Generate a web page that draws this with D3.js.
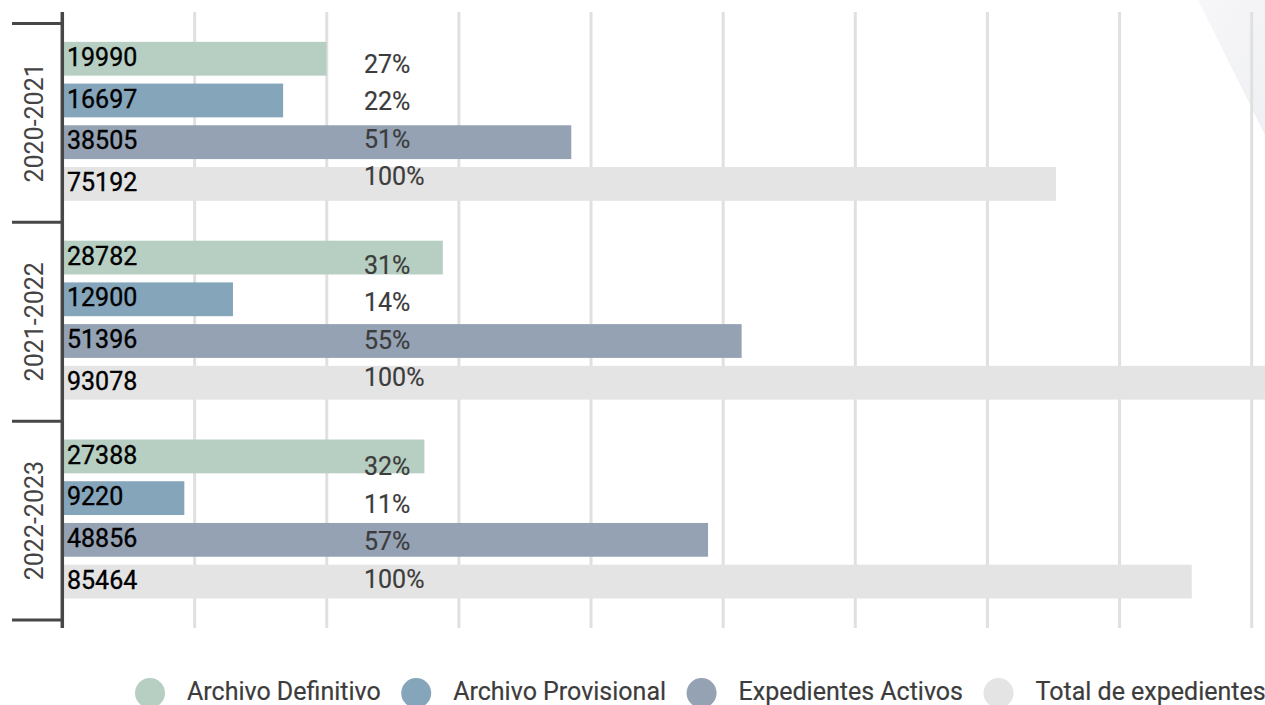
<!DOCTYPE html>
<html>
<head>
<meta charset="utf-8">
<script src="https://cdn.jsdelivr.net/npm/d3@7"></script>
<style>
  html, body { margin: 0; padding: 0; background: #ffffff; }
  svg { display: block; font-family: Roboto, "Noto Sans", sans-serif; }
</style>
</head>
<body>
<svg id="chart" width="1265" height="705"></svg>
<script>
// ---- data ----
const years = ["2020-2021", "2021-2022", "2022-2023"];
const series = ["Archivo Definitivo", "Archivo Provisional", "Expedientes Activos", "Total de expedientes"];
const archivoDefinitivo   = [19990, 28782, 27388];
const archivoProvisional  = [16697, 12900, 9220];
const expedientesActivos  = [38505, 51396, 48856];
const totalExpedientes    = [75192, 93078, 85464];
const pctDefinitivo  = ["27%", "31%", "32%"];
const pctProvisional = ["22%", "14%", "11%"];
const pctActivos     = ["51%", "55%", "57%"];
const pctTotal       = ["100%", "100%", "100%"];
const xTicks = [10000, 20000, 30000, 40000, 50000, 60000, 70000, 80000, 90000];
const colors = ["#b7cfc2", "#85a5bb", "#94a2b4", "#e4e4e4"];

const valuesBySeries = [archivoDefinitivo, archivoProvisional, expedientesActivos, totalExpedientes];
const pctBySeries = [pctDefinitivo, pctProvisional, pctActivos, pctTotal];

const rows = [];
years.forEach((yr, g) => {
  series.forEach((s, i) => {
    rows.push({ year: yr, g, series: s, i, value: valuesBySeries[i][g], pct: pctBySeries[i][g] });
  });
});

// ---- layout ----
const svg = d3.select("#chart");
const x = d3.scaleLinear().domain([0, 90000]).range([62.5, 1251.7]);
const y0 = d3.scaleBand().domain(years).range([23.5, 620]).padding(0);
const y1 = d3.scaleBand().domain(series).range([0, y0.bandwidth()])
  .paddingInner(0.19).paddingOuter(0.478).align(0.46);
// percent labels follow their own slightly different spacing
const pctGroup = d3.scaleLinear().domain([0, 1]).range([72.7, 273.9]);
const pctStep = d3.scaleLinear().domain([0, 1]).range([0, 37.5]);
const color = d3.scaleOrdinal().domain(series).range(colors);

// background decoration (top-right faint texture)
const defs = svg.append("defs");
const grad = defs.append("linearGradient").attr("id", "bgGrad")
  .attr("x1", "0").attr("y1", "0").attr("x2", "1").attr("y2", "1");
grad.append("stop").attr("offset", "0%").attr("stop-color", "#f7f7f9");
grad.append("stop").attr("offset", "100%").attr("stop-color", "#eff0f3");
svg.append("polygon")
  .attr("points", "1198,0 1265,0 1265,135")
  .attr("fill", "url(#bgGrad)");

// gridlines
svg.append("g").selectAll("line").data(xTicks).join("line")
  .attr("x1", d => x(d)).attr("x2", d => x(d))
  .attr("y1", 12).attr("y2", 628)
  .attr("stroke", "#e0e0e0").attr("stroke-width", 3);

// bars
svg.append("g").selectAll("rect").data(rows).join("rect")
  .attr("x", x(0) + 0.5)
  .attr("y", d => y0(d.year) + y1(d.series))
  .attr("width", d => x(d.value) - x(0) - 0.5)
  .attr("height", y1.bandwidth())
  .attr("fill", d => color(d.series));

// value labels
svg.append("g").selectAll("text").data(rows).join("text")
  .attr("x", 67)
  .attr("y", d => y0(d.year) + y1(d.series) + 24)
  .attr("font-size", 25)
  .attr("fill", "#000")
  .attr("stroke", "#000").attr("stroke-width", 0.35)
  .text(d => d.value);

// percent labels
svg.append("g").selectAll("text").data(rows).join("text")
  .attr("x", 364)
  .attr("y", d => pctGroup(d.g) + pctStep(d.i))
  .attr("font-size", 25)
  .attr("fill", "#3c3c3c")
  .attr("stroke", "#3c3c3c").attr("stroke-width", 0.2)
  .text(d => d.pct);

// y axis
const axisG = svg.append("g");
axisG.append("line")
  .attr("x1", 62.3).attr("x2", 62.3).attr("y1", 12).attr("y2", 628)
  .attr("stroke", "#474747").attr("stroke-width", 3.5);
const bounds = years.map(yr => y0(yr)).concat([y0.range()[1]]);
axisG.selectAll("line.tick").data(bounds).join("line").attr("class", "tick")
  .attr("x1", 12).attr("x2", 62).attr("y1", d => d).attr("y2", d => d)
  .attr("stroke", "#474747").attr("stroke-width", 3);
axisG.selectAll("text").data(years).join("text")
  .attr("transform", d => `translate(43,${y0(d) + y0.bandwidth() / 2}) rotate(-90)`)
  .attr("text-anchor", "middle")
  .attr("font-size", 25)
  .attr("fill", "#444")
  .text(d => d);

// legend
const legend = svg.append("g");
let lx = 150;
series.forEach((s, i) => {
  legend.append("circle").attr("cx", lx).attr("cy", 693).attr("r", 15).attr("fill", colors[i]);
  const t = legend.append("text").attr("x", lx + 37).attr("y", 699.5)
    .attr("font-size", 25).attr("fill", "#3c3c3c")
    .attr("stroke", "#3c3c3c").attr("stroke-width", 0.2)
    .text(s);
  const w = t.node().getComputedTextLength();
  lx = lx + 37 + w + 35.5;
});
</script>
</body>
</html>
